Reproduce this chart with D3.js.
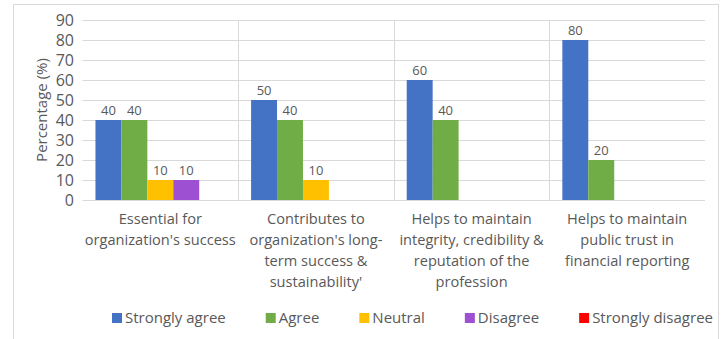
<!DOCTYPE html>
<html>
<head>
<meta charset="utf-8">
<script src="https://cdn.jsdelivr.net/npm/d3@7"></script>
<style>
  html, body { margin: 0; padding: 0; background: #fff; }
  svg { display: block; }
  text { font-family: "Open Sans", "Noto Sans", sans-serif; fill: #595959; }
</style>
</head>
<body>
<svg id="chart" width="723" height="339"></svg>
<script>
// Survey statements (category axis), one line per label row
const categories = [
  "Essential for organization's success",
  "Contributes to organization's long-term success & sustainability'",
  "Helps to maintain integrity, credibility & reputation of the profession",
  "Helps to maintain public trust in financial reporting"
];
const categoryLines = [
  ["Essential for", "organization's success"],
  ["Contributes to", "organization's long-", "term success &", "sustainability'"],
  ["Helps to maintain", "integrity, credibility &", "reputation of the", "profession"],
  ["Helps to maintain", "public trust in", "financial reporting"]
];

// Response options and their share of respondents (%)
const seriesNames = ["Strongly agree", "Agree", "Neutral", "Disagree", "Strongly disagree"];
const stronglyAgree    = [40, 50, 60, 80];
const agree            = [40, 40, 40, 20];
const neutral          = [10, 10, 0, 0];
const disagree         = [10, 0, 0, 0];
const stronglyDisagree = [0, 0, 0, 0];
const seriesColors = ["#4472C4", "#70AD47", "#FFC000", "#9E50D2", "#FF0000"];

const yTicks = [0, 10, 20, 30, 40, 50, 60, 70, 80, 90];

const seriesValues = [stronglyAgree, agree, neutral, disagree, stronglyDisagree];

const svg = d3.select("#chart");

// outer chart frame
svg.append("rect")
  .attr("x", 13.5).attr("y", 4.5)
  .attr("width", 705).attr("height", 345)
  .attr("fill", "none").attr("stroke", "#d9d9d9");

const plot = { left: 82.5, right: 705, top: 20, bottom: 200 };

const x0 = d3.scaleBand().domain(categories).range([plot.left, plot.right]).padding(0);
const x1 = d3.scaleBand().domain(seriesNames).range([0, x0.bandwidth()])
  .paddingInner(0).paddingOuter(0.5);
const y = d3.scaleLinear().domain([0, 90]).range([plot.bottom, plot.top]);

// horizontal gridlines
svg.append("g")
  .selectAll("line").data(yTicks).join("line")
  .attr("x1", plot.left).attr("x2", plot.right)
  .attr("y1", d => Math.round(y(d)) + 0.5).attr("y2", d => Math.round(y(d)) + 0.5)
  .attr("stroke", "#d9d9d9").attr("stroke-width", 1);

// vertical separators between categories
svg.append("g")
  .selectAll("line").data(categories.slice(1)).join("line")
  .attr("x1", d => Math.round(x0(d)) + 0.5).attr("x2", d => Math.round(x0(d)) + 0.5)
  .attr("y1", y(90)).attr("y2", y(0))
  .attr("stroke", "#d9d9d9").attr("stroke-width", 1);

// y axis tick labels
const yAxis = d3.axisLeft(y).tickValues(yTicks).tickSize(0).tickPadding(0);
const gy = svg.append("g").attr("transform", `translate(74,0)`).call(yAxis);
gy.select(".domain").remove();
gy.selectAll("text")
  .attr("font-family", null)
  .attr("font-size", null)
  .style("font-size", "16px")
  .attr("dy", "0.34em");

// y axis title
svg.append("text")
  .attr("transform", `translate(42,110) rotate(-90)`)
  .attr("text-anchor", "middle")
  .attr("dy", "0.35em")
  .style("font-size", "15px")
  .text("Percentage (%)");

// bars
const rows = categories.map((c, i) => ({
  category: c,
  values: seriesNames.map((s, j) => ({ series: s, value: seriesValues[j][i], color: seriesColors[j] }))
}));

const groups = svg.append("g")
  .selectAll("g").data(rows).join("g")
  .attr("transform", d => `translate(${x0(d.category)},0)`);

groups.selectAll("rect")
  .data(d => d.values.filter(v => v.value > 0))
  .join("rect")
  .attr("x", d => x1(d.series))
  .attr("y", d => y(d.value))
  .attr("width", x1.bandwidth())
  .attr("height", d => y(0) - y(d.value))
  .attr("fill", d => d.color);

// value labels
groups.selectAll("text.value")
  .data(d => d.values.filter(v => v.value > 0))
  .join("text")
  .attr("class", "value")
  .attr("x", d => x1(d.series) + x1.bandwidth() / 2)
  .attr("y", d => y(d.value) - 5)
  .attr("text-anchor", "middle")
  .style("font-size", "13px")
  .text(d => d.value);

// category labels (multi-line)
const catLabels = svg.append("g")
  .selectAll("text").data(categories).join("text")
  .attr("x", d => x0(d) + x0.bandwidth() / 2)
  .attr("y", 224)
  .attr("text-anchor", "middle")
  .style("font-size", "14.6px");
catLabels.selectAll("tspan")
  .data((d, i) => categoryLines[i])
  .join("tspan")
  .attr("x", function () { return this.parentNode.getAttribute("x"); })
  .attr("dy", (d, i) => i === 0 ? 0 : 21)
  .text(d => d);

// legend
const legend = svg.append("g");
let lx = 112;
seriesNames.forEach((name, i) => {
  const item = legend.append("g").attr("transform", `translate(${lx},0)`);
  item.append("rect")
    .attr("x", 0).attr("y", 313)
    .attr("width", 10).attr("height", 10)
    .attr("fill", seriesColors[i]);
  const t = item.append("text")
    .attr("x", 13).attr("y", 318)
    .attr("dy", "0.35em")
    .style("font-size", "15px")
    .text(name);
  lx += 13 + t.node().getComputedTextLength() + 40;
});
</script>
</body>
</html>
